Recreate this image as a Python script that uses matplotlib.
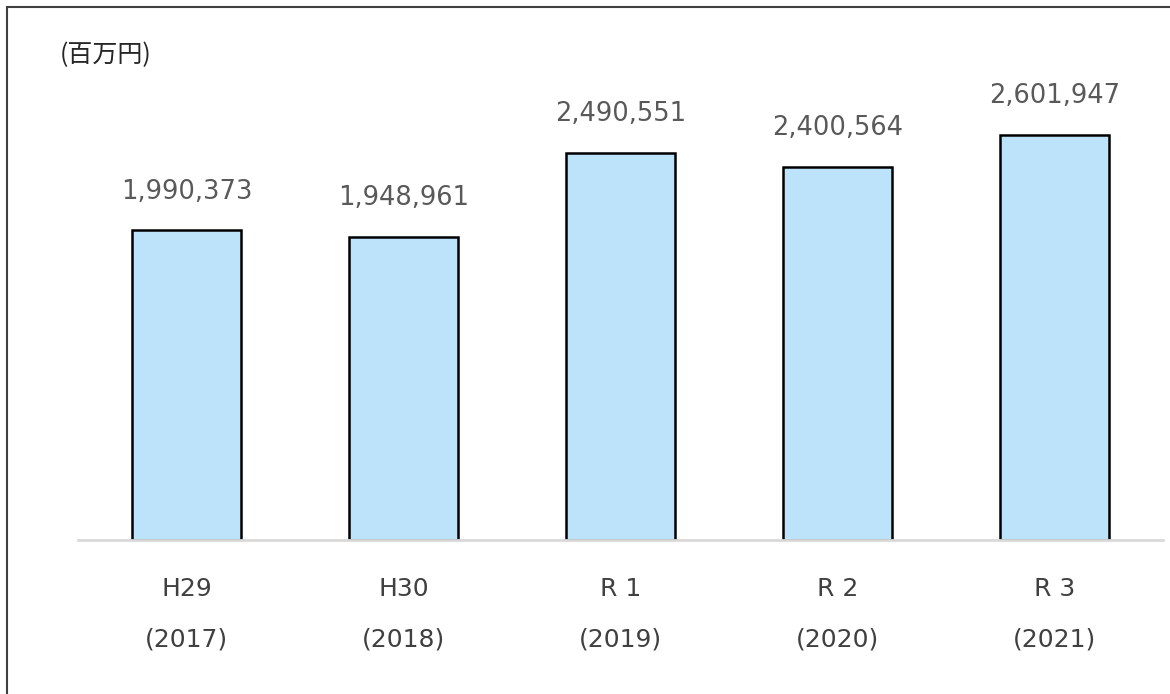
import matplotlib.pyplot as plt
from matplotlib.patches import Rectangle

plt.rcParams['font.family'] = ['DejaVu Sans', 'Noto Sans CJK JP']

# data
eras = ['H29', 'H30', 'R 1', 'R 2', 'R 3']
years = ['(2017)', '(2018)', '(2019)', '(2020)', '(2021)']
values = [1990373, 1948961, 2490551, 2400564, 2601947]
unit_label = '(百万円)'

W, H = 1170, 694
fig = plt.figure(figsize=(W / 100, H / 100), dpi=100)

# outer frame (only top/left visible in the reference)
fig.patches.append(Rectangle((7 / W, -0.05), 1.2, (H - 7) / H + 0.05,
                             transform=fig.transFigure, fill=False,
                             edgecolor='#404040', linewidth=1.5))

# axes: left 78px, right 1163px, bottom 540px, top so that 3e6 -> 466.6px
ymax = 3000000
px_per_unit = 1 / 6430
ax_h = ymax * px_per_unit
ax = fig.add_axes([78 / W, (H - 540) / H, (1163 - 78) / W, ax_h / H])

x = list(range(len(values)))
ax.bar(x, values, width=0.5, color='#BDE3FB', edgecolor='black', linewidth=1.8, zorder=2)
ax.set_xlim(-0.5, len(values) - 0.5)
ax.set_ylim(0, ymax)

for s in ['top', 'right', 'left']:
    ax.spines[s].set_visible(False)
ax.spines['bottom'].set_color('#d9d9d9')
ax.spines['bottom'].set_linewidth(2)
ax.spines['bottom'].set_zorder(3)
ax.set_yticks([])
ax.set_xticks([])

for i, v in enumerate(values):
    ax.annotate(f'{v:,}', xy=(i, v), xytext=(0, 28), textcoords='offset points',
                ha='center', va='center', fontsize=18.5, color='#595959')

for i in x:
    ax.annotate(eras[i], xy=(i, 0), xycoords=('data', 'axes fraction'),
                xytext=(0, -35), textcoords='offset points',
                ha='center', va='center', fontsize=18, color='#404040')
    ax.annotate(years[i], xy=(i, 0), xycoords=('data', 'axes fraction'),
                xytext=(0, -72), textcoords='offset points',
                ha='center', va='center', fontsize=18, color='#404040')

fig.text(60 / W, 1 - 55 / H, unit_label, ha='left', va='center',
         fontsize=18, color='#262626', family=['Noto Sans CJK JP', 'DejaVu Sans'])

fig.savefig('out.png', dpi=100)
